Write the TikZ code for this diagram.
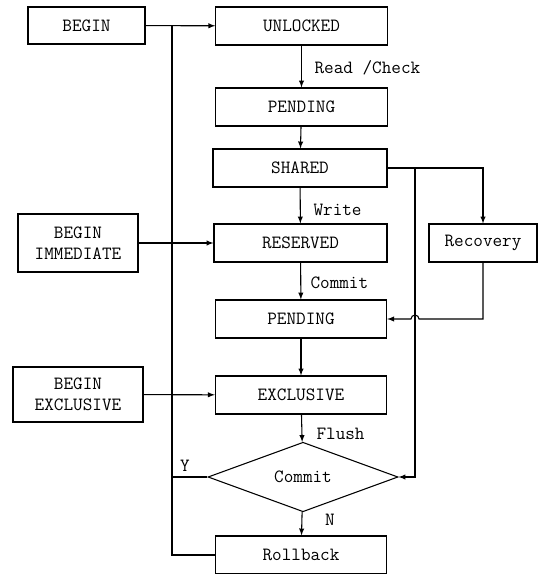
\documentclass[tikz,border=0pt]{standalone}
\usepackage{fontspec}
\usepackage{tikz}
\usetikzlibrary{arrows}
\usetikzlibrary{shapes.geometric}

\begin{document}
\begin{tikzpicture}[x=0.75pt,y=-0.75pt,thick,>=latex,
  font=\ttfamily\fontsize{14}{16}\selectfont,
  box/.style={draw,inner sep=0pt,minimum width=128.5pt,minimum height=28.5pt},
  lbl/.style={anchor=west,inner sep=0pt}]
\useasboundingbox (0,0) rectangle (539,574);
% state column
\node[box,minimum width=87.75pt,minimum height=27.75pt] (begin) at (86.5,25.5) {BEGIN};
\node[box] (unlocked) at (301.5,26) {UNLOCKED};
\node[box] (pend1) at (301.5,107) {PENDING};
\node[box,minimum width=130.5pt] (shared) at (300,168) {SHARED};
\node[box,minimum width=129.75pt] (reserved) at (300.5,243) {RESERVED};
\node[box] (pend2) at (301,319) {PENDING};
\node[box] (exclusive) at (301,395) {EXCLUSIVE};
\node[draw,diamond,inner sep=0pt,minimum width=142.5pt,minimum height=39pt] (commit) at (303,477) {Commit};
\node[box] (rollback) at (301,555) {Rollback};
\node[box,minimum width=90pt,minimum height=43.5pt,align=center] (beginimm) at (78,243) {BEGIN\\IMMEDIATE};
\node[box,minimum width=97.5pt,minimum height=41.25pt,align=center] (beginexc) at (78,394.5) {BEGIN\\EXCLUSIVE};
\node[box,minimum width=81pt] (recovery) at (483,243) {Recovery};
\coordinate (top) at (172,25.5);
\coordinate (bot) at (172,555);
\coordinate (br) at (415,168);
\coordinate (hop) at (419,319);
% left side
\draw[->] (begin) -- (unlocked);
\draw (top) -- (bot) -- (rollback);
\draw[->] (beginimm) -- (reserved);
\draw[->] (beginexc) -- (exclusive);
\draw (commit.west) -- (commit.west -| top);
\node (y) at (185,466) {Y};
% main column
\draw[->] (unlocked) -- (pend1);
\node[lbl] (readchk) at (314,68) {Read /Check};
\draw[->] (pend1) -- (shared);
\draw[->] (shared) -- (reserved);
\node[lbl] (write) at (313,210) {Write};
\draw[->] (reserved) -- (pend2);
\node[lbl] (cmt) at (310,283) {Commit};
\draw[->] (pend2) -- (exclusive);
\draw[->] (exclusive) -- (commit);
\node[lbl] (flush) at (316,434) {Flush};
\draw[->] (commit) -- (rollback);
\node (n) at (330,520) {N};
% right side
\draw[->] (shared.east) -| (recovery.north);
\draw[->] (br) |- (commit.east);
\draw[->] (recovery.south) |- (hop) arc[start angle=0,end angle=180,radius=3pt] -- (pend2.east);
\end{tikzpicture}
\end{document}
